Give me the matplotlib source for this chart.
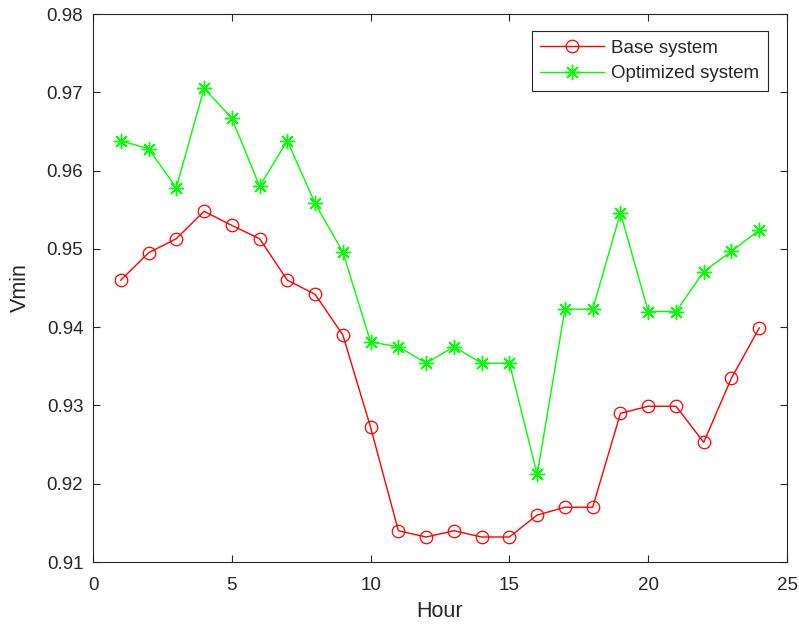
import numpy as np
import matplotlib.pyplot as plt

hour = np.arange(1, 25)
base = [0.9460, 0.9495, 0.9513, 0.9548, 0.9530, 0.9513, 0.9460, 0.9442,
        0.9390, 0.9272, 0.9140, 0.9132, 0.9140, 0.9132, 0.9132, 0.9160,
        0.9170, 0.9170, 0.9290, 0.9299, 0.9299, 0.9253, 0.9335, 0.9399]
optimized = [0.9638, 0.9628, 0.9578, 0.9705, 0.9667, 0.9580, 0.9638, 0.9558,
             0.9496, 0.9381, 0.9375, 0.9354, 0.9375, 0.9354, 0.9354, 0.9212,
             0.9423, 0.9423, 0.9546, 0.9420, 0.9420, 0.9471, 0.9497, 0.9524]

plt.rcParams['font.family'] = ['Liberation Sans', 'DejaVu Sans']
txt = '#262626'

fig = plt.figure(figsize=(7.99, 6.28), dpi=100)
ax = fig.add_axes([0.1164, 0.105, 0.8686, 0.8727])

# asterisk marker: 8 spokes like + and x overlaid
ast = (8, 2, 0)
ax.plot(hour, base, '-o', color='#ff0000', lw=1.0, ms=9, mfc='none', mew=0.9,
        label='Base system')
ax.plot(hour, optimized, '-', marker=ast, color='#00ff00', lw=1.0, ms=11,
        mew=1.0, label='Optimized system')

ax.set_xlim(0, 25)
ax.set_ylim(0.91, 0.98)
ax.set_xticks(np.arange(0, 26, 5))
yt = np.arange(0.91, 0.9801, 0.01)
ax.set_yticks(yt)
ax.set_yticklabels(['%.2f' % v for v in yt])
ax.tick_params(direction='in', top=True, right=True, length=5, width=0.8,
               labelsize=13.5, colors=txt, labelcolor=txt)
ax.tick_params(axis='x', pad=11)
ax.tick_params(axis='y', pad=7)
for s in ax.spines.values():
    s.set_color(txt)
    s.set_linewidth(0.8)

ax.set_xlabel('Hour', fontsize=15.5, color=txt, labelpad=5)
ax.set_ylabel('Vmin', fontsize=15.5, color=txt, labelpad=11)

leg = ax.legend(loc='upper right', bbox_to_anchor=(0.9726, 0.969), fontsize=13.5,
                fancybox=False, edgecolor=txt, framealpha=1,
                handlelength=3.4, borderaxespad=0, labelspacing=0.45,
                handletextpad=0.4, borderpad=0.45)
leg.get_frame().set_linewidth(0.8)
for t in leg.get_texts():
    t.set_color(txt)

fig.savefig('out.png', dpi=100)
